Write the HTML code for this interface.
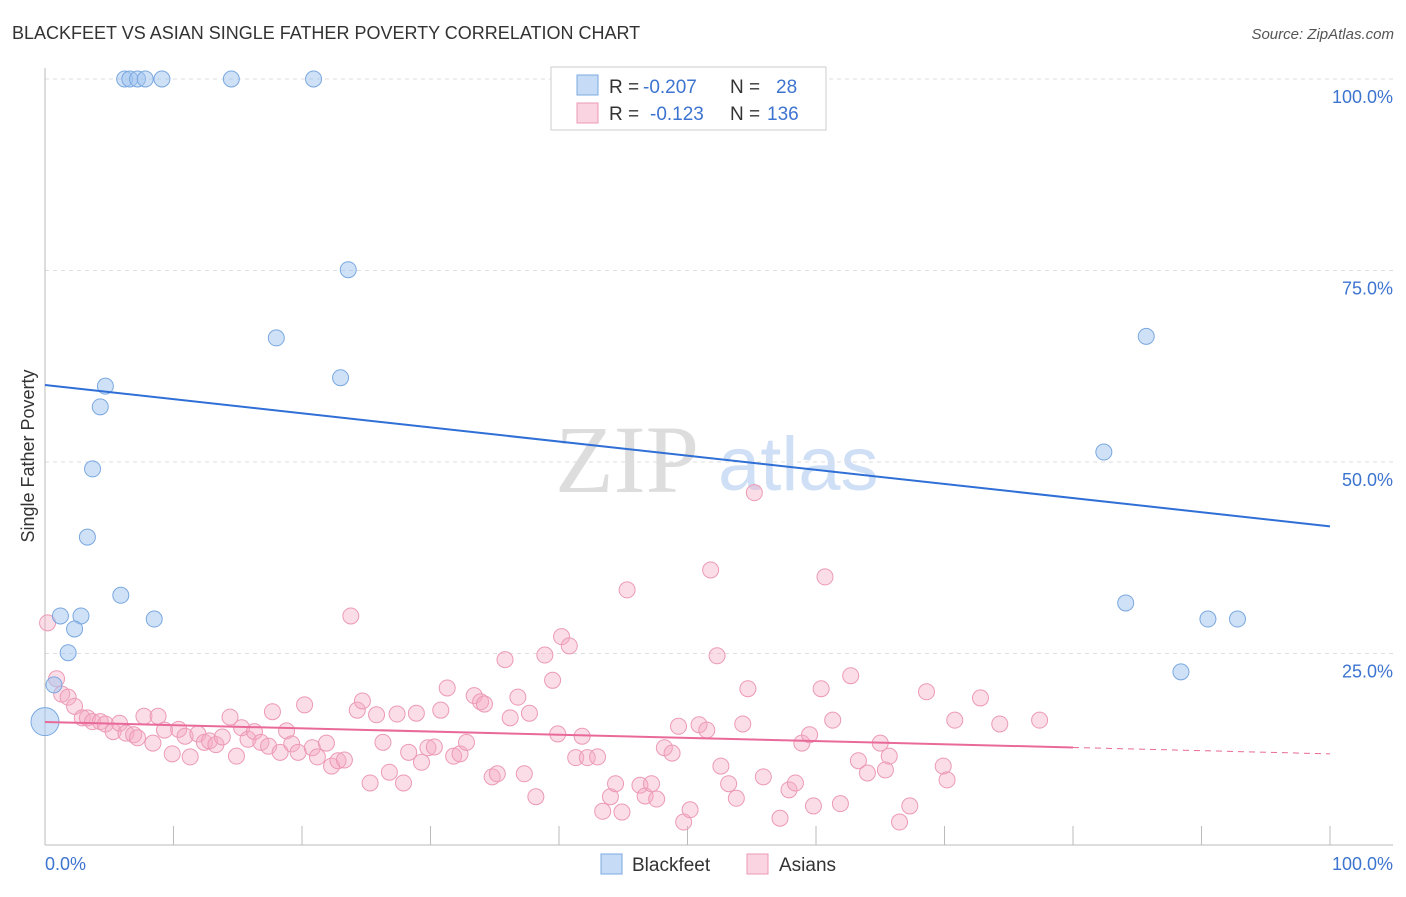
<!DOCTYPE html>
<html><head><meta charset="utf-8"><style>
body{margin:0;background:#fff;font-family:"Liberation Sans",sans-serif}
</style></head><body>
<svg id="c" width="1406" height="892" xmlns="http://www.w3.org/2000/svg" style="font-family:'Liberation Sans',sans-serif"></svg>
<script>
const blueX=[6.2,6.6,7.2,7.8,9.1,14.5,20.9,23.6,18.0,23.0,4.7,4.3,3.7,3.3,5.9,1.2,2.8,8.5,2.3,1.8,0.7,0,82.4,85.7,84.1,90.5,92.8,88.4];
const blueY=[100,100,100,100,100,100,100,75.1,66.2,61.0,59.9,57.2,49.1,40.2,32.6,29.9,29.9,29.5,28.2,25.1,20.9,16.1,51.3,66.4,31.6,29.5,29.5,22.6];
const pinkX=[0.2,0.9,1.3,1.8,2.3,2.9,3.3,3.7,4.3,4.7,5.3,5.8,6.3,6.9,7.2,7.7,8.4,8.8,9.3,9.9,10.4,10.9,11.3,11.9,12.4,12.8,13.3,13.8,14.4,14.9,15.3,15.8,16.3,16.8,17.4,17.7,18.3,18.8,19.2,19.7,20.2,20.8,21.2,21.9,22.3,22.8,23.3,23.8,24.3,24.7,25.3,25.8,26.3,26.8,27.4,27.9,28.3,28.9,29.3,29.8,30.3,30.8,31.3,31.8,32.3,32.8,33.4,33.9,34.2,34.8,35.2,35.8,36.2,36.8,37.3,37.7,38.2,38.9,39.5,39.9,40.2,40.8,41.3,41.8,42.2,43.0,43.4,44.0,44.4,44.9,45.3,46.3,46.7,47.2,47.6,48.2,48.8,49.3,49.7,50.2,50.9,51.5,51.8,52.3,52.6,53.2,53.8,54.3,54.7,55.2,55.9,57.2,57.9,58.4,58.9,59.5,59.8,60.4,60.7,61.3,61.9,62.7,63.3,64.0,65.0,65.4,65.7,66.5,67.3,68.6,69.9,70.2,70.8,72.8,74.3,77.4];
const pinkY=[29.0,21.7,19.7,19.3,18.1,16.6,16.6,16.1,16.1,15.8,14.8,15.9,14.6,14.4,14.0,16.8,13.3,16.8,15.0,11.9,15.1,14.2,11.5,14.5,13.4,13.6,13.1,14.1,16.7,11.6,15.3,13.8,14.8,13.4,12.9,17.4,12.1,14.9,13.2,12.1,18.3,12.7,11.5,13.3,10.3,11.0,11.1,29.9,17.6,18.8,8.1,17.0,13.4,9.5,17.1,8.1,12.1,17.2,10.8,12.7,12.8,17.6,20.5,11.6,11.9,13.4,19.5,18.7,18.4,8.9,9.3,24.2,16.6,19.3,9.3,17.2,6.3,24.8,21.5,14.5,27.2,26.0,11.4,14.2,11.4,11.5,4.4,6.3,8.0,4.3,33.3,7.8,6.4,8.0,6.0,12.7,12.0,15.5,3.0,4.6,15.7,15.0,35.9,24.7,10.3,8.0,6.1,15.8,20.4,46.0,8.9,3.5,7.2,8.1,13.3,14.4,5.1,20.4,35.0,16.3,5.4,22.1,11.0,9.4,13.3,9.8,11.6,3.0,5.1,20.0,10.3,8.5,16.3,19.2,15.8,16.3];
const yTicks=[25,50,75,100];
const yTickLabels=["25.0%","50.0%","75.0%","100.0%"];
const blueTrend=[60.05,41.6];
const pinkTrend=[16.06,11.9];
const pinkSolidEnd=80;

const S=document.getElementById('c');const NS='http://www.w3.org/2000/svg';
const X0=45,X1=1330,Y0=845,Y100=79;
const sx=v=>X0+(X1-X0)*v/100, sy=v=>Y0-(Y0-Y100)*v/100;
function mk(t,a,p){const e=document.createElementNS(NS,t);for(const k in a)e.setAttribute(k,a[k]);(p||S).appendChild(e);return e;}
let t;
t=mk('text',{x:12,y:39,'font-size':18,fill:'#333'});t.textContent='BLACKFEET VS ASIAN SINGLE FATHER POVERTY CORRELATION CHART';


t=mk('text',{x:1394,y:39,'font-size':15,fill:'#555','text-anchor':'end','font-style':'italic'});t.textContent='Source: ZipAtlas.com';


t=mk('text',{x:555,y:492,'font-size':96,fill:'#ddd','font-family':'Liberation Serif, serif'});t.textContent='ZIP';


t=mk('text',{x:718,y:490,'font-size':76,fill:'#cfdff5'});t.textContent='atlas';


yTicks.forEach((v,i)=>{
 const g=mk('line',{x1:X0,x2:1393,y1:sy(v),y2:sy(v),stroke:'#ddd','stroke-dasharray':'4,4'});
 
 
 const l=mk('text',{x:1393,y:sy(v)+24,'font-size':18,fill:'#3d74d0','text-anchor':'end'});l.textContent=yTickLabels[i];
 
 
});
let a=mk('line',{x1:X0,x2:X0,y1:68,y2:Y0,stroke:'#bbb'});
a=mk('line',{x1:X0,x2:1393,y1:Y0,y2:Y0,stroke:'#bbb'});
for(let i=0;i<=10;i++){const k=mk('line',{x1:sx(i*10),x2:sx(i*10),y1:826,y2:Y0,stroke:'#bbb'});}
t=mk('text',{x:45,y:870,'font-size':18,fill:'#3d74d0'});t.textContent='0.0%';
t=mk('text',{x:1393,y:870,'font-size':18,fill:'#3d74d0','text-anchor':'end'});t.textContent='100.0%';
t=mk('text',{x:34,y:456,'font-size':18,fill:'#333','text-anchor':'middle',transform:'rotate(-90 34 456)'});t.textContent='Single Father Poverty';

pinkX.forEach((v,i)=>{const c=mk('circle',{cx:sx(v),cy:sy(pinkY[i]),r:8,fill:'rgba(245,170,195,0.4)',stroke:'#ec9ab5','stroke-width':1});
 });
blueX.forEach((v,i)=>{const c=mk('circle',{cx:sx(v),cy:sy(blueY[i]),r:i==21?14:8,fill:'rgba(160,195,240,0.5)',stroke:'#7aa8e0','stroke-width':1});
 });
let tr=mk('line',{x1:sx(0),y1:sy(blueTrend[0]),x2:sx(100),y2:sy(blueTrend[1]),stroke:'#2f6fd6','stroke-width':2});

const pm=pinkTrend[0]+(pinkTrend[1]-pinkTrend[0])*pinkSolidEnd/100;
tr=mk('line',{x1:sx(0),y1:sy(pinkTrend[0]),x2:sx(pinkSolidEnd),y2:sy(pm),stroke:'#e96a98','stroke-width':2});

tr=mk('line',{x1:sx(pinkSolidEnd),y1:sy(pm),x2:sx(100),y2:sy(pinkTrend[1]),stroke:'#e96a98','stroke-width':1,'stroke-dasharray':'6,5'});

const lg=mk('g',{});
mk('rect',{x:551,y:67,width:275,height:63,fill:'#fff',stroke:'#ccc'},lg);
mk('rect',{x:577,y:75,width:21,height:20,fill:'rgba(160,195,240,0.6)',stroke:'#7aa8e0'},lg);
mk('rect',{x:577,y:103,width:21,height:20,fill:'rgba(245,170,195,0.5)',stroke:'#ec9ab5'},lg);
function txt(x,y,s,c,p){const e=mk('text',{x:x,y:y,'font-size':19,fill:c},p);e.textContent=s;return e;}
txt(609,93,'R = ','#333',lg);txt(643,93,'-0.207','#3d74d0',lg);txt(730,93,'N = ','#333',lg);txt(776,93,'28','#3d74d0',lg);
txt(609,120,'R = ','#333',lg);txt(650,120,'-0.123','#3d74d0',lg);txt(730,120,'N = ','#333',lg);txt(767,120,'136','#3d74d0',lg);
const bl=mk('g',{});
mk('rect',{x:601,y:854,width:21,height:20,fill:'rgba(160,195,240,0.6)',stroke:'#7aa8e0'},bl);
txt(632,871,'Blackfeet','#333',bl);
mk('rect',{x:747,y:854,width:21,height:20,fill:'rgba(245,170,195,0.5)',stroke:'#ec9ab5'},bl);
txt(779,871,'Asians','#333',bl);
</script>
</body></html>
